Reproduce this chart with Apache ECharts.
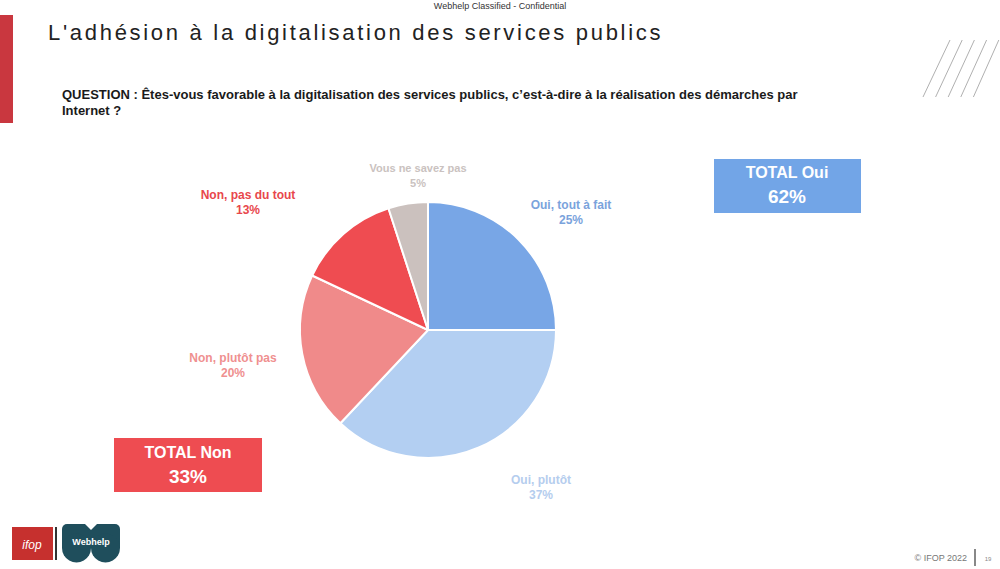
<!DOCTYPE html>
<html><head><meta charset="utf-8">
<script src="https://cdn.jsdelivr.net/npm/echarts@6/dist/echarts.min.js"></script>
<style>
html,body{margin:0;padding:0;background:#fff;}
#chart{width:1000px;height:569px;}
#chart text[style*="Arimo"]{letter-spacing:2.7px;}
</style></head>
<body><div id="chart"></div>
<script>
// ---- data ----
const categories = ['Oui, tout à fait', 'Oui, plutôt', 'Non, plutôt pas', 'Non, pas du tout', 'Vous ne savez pas'];
const values = [25, 37, 20, 13, 5];
const totalNames = ['TOTAL Oui', 'TOTAL Non'];
const totalValues = [62, 33];
const titleText = "L'adhésion à la digitalisation des services publics";
const questionLines = [
  'QUESTION : Êtes-vous favorable à la digitalisation des services publics, c’est-à-dire à la réalisation des démarches par',
  'Internet ?'
];

// ---- styles ----
const sliceColors = ['#78a6e6', '#b3cff2', '#f08a8a', '#ef4c51', '#cbc1be'];
const labelColors = ['#7aa3dc', '#b5cdee', '#ef9090', '#e8474c', '#cac2c0'];
const labelPos = [[571, 212], [541, 487], [233, 365], [248, 202], [418, 175]];
const FONT = "'Liberation Sans', Arial, sans-serif";

const chart = echarts.init(document.getElementById('chart'), null, {renderer: 'svg'});

const seriesData = categories.map((c, i) => ({
  name: c, value: values[i],
  itemStyle: {color: sliceColors[i]},
  label: {color: labelColors[i], fontSize: i === 4 ? 11 : 12}
}));

const diag = [];
for (let i = 0; i < 5; i++) {
  diag.push({type: 'line', silent: true,
    shape: {x1: 923 + 12.6 * i, y1: 97, x2: 950 + 12.2 * i, y2: 40},
    style: {stroke: '#b0b0b0', lineWidth: 1}});
}

chart.setOption({
  animation: false,
  graphic: [
    {type: 'rect', shape: {x: 0, y: 15, width: 13, height: 108}, style: {fill: '#c9373f'}},
    {type: 'text', x: 500, y: 6, style: {text: 'Webhelp Classified - Confidential', font: "9px 'Liberation Sans', sans-serif", fill: '#333', align: 'center', verticalAlign: 'middle'}},
    {type: 'text', x: 48, y: 32, style: {text: titleText, font: "22px 'Liberation Sans', Arimo, sans-serif", fill: '#222', align: 'left', verticalAlign: 'middle'}},
    {type: 'text', x: 62, y: 94, style: {text: questionLines[0], font: 'bold 13px ' + FONT, fill: '#1a1a1a', align: 'left', verticalAlign: 'middle'}},
    {type: 'text', x: 62, y: 110, style: {text: questionLines[1], font: 'bold 13px ' + FONT, fill: '#1a1a1a', align: 'left', verticalAlign: 'middle'}},
    ...diag,
    // TOTAL Oui box
    {type: 'rect', shape: {x: 714, y: 159, width: 147, height: 54}, style: {fill: '#72a5e7'}},
    {type: 'text', x: 787, y: 172, style: {text: totalNames[0], font: 'bold 16px ' + FONT, fill: '#fff', align: 'center', verticalAlign: 'middle'}},
    {type: 'text', x: 787, y: 196, style: {text: totalValues[0] + '%', font: 'bold 19px ' + FONT, fill: '#fff', align: 'center', verticalAlign: 'middle'}},
    // TOTAL Non box
    {type: 'rect', shape: {x: 114, y: 438, width: 148, height: 54}, style: {fill: '#ee4c51'}},
    {type: 'text', x: 188, y: 452, style: {text: totalNames[1], font: 'bold 16px ' + FONT, fill: '#fff', align: 'center', verticalAlign: 'middle'}},
    {type: 'text', x: 188, y: 476, style: {text: totalValues[1] + '%', font: 'bold 19px ' + FONT, fill: '#fff', align: 'center', verticalAlign: 'middle'}},
    // ifop logo
    {type: 'rect', shape: {x: 12, y: 527, width: 41, height: 33}, style: {fill: '#c6302e'}},
    {type: 'text', x: 32, y: 545, style: {text: 'ifop', font: 'italic 12px ' + FONT, fill: '#fff', align: 'center', verticalAlign: 'middle'}},
    {type: 'rect', shape: {x: 55, y: 527, width: 2, height: 33}, style: {fill: '#333'}},
    // Webhelp logo
    {type: 'rect', shape: {x: 62, y: 524, width: 58, height: 24, r: [5, 5, 0, 0]}, style: {fill: '#1f4e5c'}},
    {type: 'circle', shape: {cx: 76.5, cy: 548, r: 14.5}, style: {fill: '#1f4e5c'}},
    {type: 'circle', shape: {cx: 105.5, cy: 548, r: 14.5}, style: {fill: '#1f4e5c'}},
    {type: 'polygon', shape: {points: [[85, 524], [97, 524], [91, 530]]}, style: {fill: '#fff'}},
    {type: 'text', x: 91, y: 542, style: {text: 'Webhelp', font: 'bold 9px ' + FONT, fill: '#fff', align: 'center', verticalAlign: 'middle'}},
    // footer
    {type: 'text', x: 967, y: 558, style: {text: '© IFOP 2022', font: '9px ' + FONT, fill: '#777', align: 'right', verticalAlign: 'middle'}},
    {type: 'rect', shape: {x: 974, y: 549, width: 2, height: 17}, style: {fill: '#888'}},
    {type: 'text', x: 988, y: 559, style: {text: '19', font: '6px ' + FONT, fill: '#888', align: 'center', verticalAlign: 'middle'}}
  ],
  series: [{
    type: 'pie',
    center: [428, 330],
    radius: [0, 128],
    startAngle: 90,
    clockwise: true,
    avoidLabelOverlap: false,
    itemStyle: {borderColor: '#fff', borderWidth: 2},
    label: {
      show: true,
      position: 'outside',
      formatter: p => p.name + '\n' + p.value + '%',
      fontFamily: FONT,
      fontWeight: 'bold',
      fontSize: 12,
      lineHeight: 15,
      align: 'center'
    },
    labelLine: {show: false},
    labelLayout: p => ({x: labelPos[p.dataIndex][0], y: labelPos[p.dataIndex][1], align: 'center', verticalAlign: 'middle'}),
    emphasis: {disabled: true},
    data: seriesData
  }]
});
</script>
</body></html>
